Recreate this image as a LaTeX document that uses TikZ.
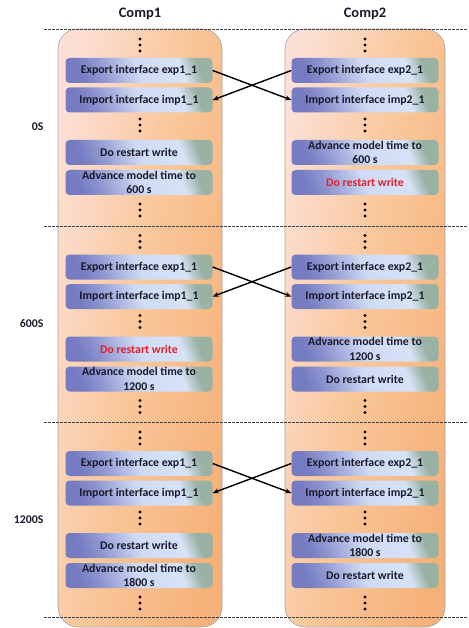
\documentclass[tikz,border=0pt]{standalone}
\usepackage{fontspec}
\setmainfont{Carlito}
\usetikzlibrary{arrows.meta}
\definecolor{colpale}{HTML}{FCE0D6}
\definecolor{colorange}{HTML}{F6B078}
\definecolor{colmid}{HTML}{F9C698}
\definecolor{boxleft}{HTML}{767CC2}
\definecolor{boxmid}{HTML}{CFDBF5}
\definecolor{boxmidb}{HTML}{D6E2F6}
\definecolor{boxright}{HTML}{9AB2A4}
\definecolor{ink}{HTML}{1A1A2A}
\definecolor{alert}{HTML}{E4202C}
% step boxes: blue-violet on the left, pale blue centre, green tint at the far corner
% (the visible part of an axis shading is its 25bp--75bp band)
\pgfdeclarehorizontalshading{boxshade}{100bp}{color(0bp)=(boxleft); color(25bp)=(boxleft);
  color(33bp)=(boxleft!75!boxmid); color(50bp)=(boxmid); color(68bp)=(boxmidb);
  color(75bp)=(boxright); color(100bp)=(boxright)}
\tikzset{
  column/.style={draw=black!35, line width=0.6pt, rounded corners=20pt,
    left color=colpale, right color=colorange, middle color=colmid, shading angle=80},
  stepbox/.style={rounded corners=4pt, minimum width=147pt, minimum height=25pt,
    inner sep=0pt, align=center, font=\bfseries\fontsize{11.8}{14.5}\selectfont, text=ink,
    shading=boxshade, shading angle=22},
  sep/.style={dashed, dash pattern=on 2.5pt off 1.5pt, line width=0.7pt, black!75},
  link/.style={line width=1.4pt, black, -{Stealth[length=6pt,width=5pt]}},
  dotpt/.style={circle, fill=black, inner sep=0pt, minimum size=3.4pt},
  heading/.style={font=\bfseries\fontsize{14.5}{16}\selectfont, text=ink},
  timelabel/.style={font=\bfseries\fontsize{11.8}{13}\selectfont, text=ink, anchor=east}
}
\newcommand{\vdotsat}[2]{%
  \node[dotpt] at (#1,#2-6) {};
  \node[dotpt] at (#1,#2) {};
  \node[dotpt] at (#1,#2+6) {};}
\begin{document}
\begin{tikzpicture}[x=1pt, y=-1pt]
\useasboundingbox (0,0) rectangle (468,628);
% the two component columns
\path[column] (58,29) rectangle (222,627);
\path[column] (285,29) rectangle (445,627);
% headings
\node[heading] (h1) at (140,14) {Comp1};
\node[heading] (h2) at (365,14) {Comp2};
% time separators
\foreach \yy in {29,226,422,617}
  \draw[sep] (44,\yy) -- (468,\yy);
% one block per restart interval
\foreach \k/\t/\lab/\ra/\rb in {0/600/0S/ink/alert, 1/1200/600S/alert/ink, 2/1800/1200S/ink/ink}{
  \pgfmathsetmacro{\off}{196.5*\k}
  \begin{scope}[yshift={-\off pt}]
    \vdotsat{140}{45}
    \vdotsat{365}{45}
    \node[stepbox] (e1\k) at (139,70.5) {Export interface exp1\_1};
    \node[stepbox] (i1\k) at (139,100) {Import interface imp1\_1};
    \node[stepbox] (e2\k) at (365,70.5) {Export interface exp2\_1};
    \node[stepbox] (i2\k) at (365,100) {Import interface imp2\_1};
    \vdotsat{140}{125}
    \vdotsat{365}{125}
    \node[stepbox, text=\ra] (w1\k) at (139,152.5) {Do restart write};
    \node[stepbox] (a1\k) at (139,182.5) {Advance model time to\\\t\ s};
    \node[stepbox] (a2\k) at (365,152.5) {Advance model time to\\\t\ s};
    \node[stepbox, text=\rb] (w2\k) at (365,182.5) {Do restart write};
    \vdotsat{140}{210}
    \vdotsat{365}{210}
    \node[timelabel] (t\k) at (47,127) {\lab};
    \draw[link] (e1\k.east) -- (i2\k.west);
    \draw[link] (e2\k.west) -- (i1\k.east);
  \end{scope}
}
\end{tikzpicture}
\end{document}
